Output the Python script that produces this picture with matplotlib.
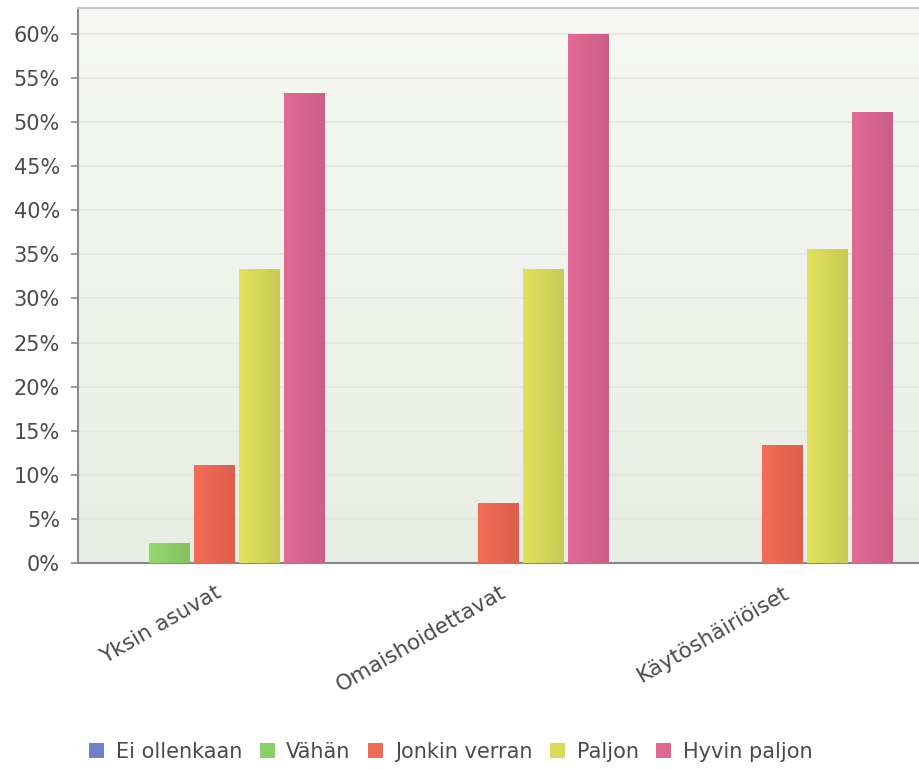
import matplotlib.pyplot as plt
import numpy as np
from matplotlib.colors import LinearSegmentedColormap
from matplotlib.patches import Patch
from matplotlib.transforms import ScaledTranslation

plt.rcParams['font.family'] = ['DejaVu Sans']

categories = ["Yksin asuvat", "Omaishoidettavat", "Käytöshäiriöiset"]
series = ["Ei ollenkaan", "Vähän", "Jonkin verran", "Paljon", "Hyvin paljon"]
ei_ollenkaan = [0.0, 0.0, 0.0]
vahan = [2.2, 0.0, 0.0]
jonkin_verran = [11.1, 6.7, 13.3]
paljon = [33.3, 33.3, 35.6]
hyvin_paljon = [53.3, 60.0, 51.1]
values = [ei_ollenkaan, vahan, jonkin_verran, paljon, hyvin_paljon]

# light / dark shade for each series (bars fade left to right)
shades = [("#7888d6", "#6474c0"),
          ("#95d86e", "#84c262"),
          ("#f56c56", "#dc5f4d"),
          ("#e2e25c", "#c9c954"),
          ("#e26a94", "#cb5f87")]
legend_colors = ["#6f80cc", "#8acf68", "#ef6a55", "#d9d95a", "#df6891"]

fig = plt.figure(figsize=(9.2, 7.69), dpi=100)
ax = fig.add_axes([0.0848, 0.2679, 0.9152, 0.7217])

xlim = (-0.482, 2.483)
ylim = (0, 62.95)

# background: soft vertical gradient
bg = LinearSegmentedColormap.from_list("bg", ["#e8eee4", "#f7f8f5"])
ax.imshow(np.linspace(0, 1, 256).reshape(-1, 1), cmap=bg, origin="lower",
          extent=(xlim[0], xlim[1], ylim[0], ylim[1]), aspect="auto", zorder=0)

x = np.arange(len(categories))
width = 0.144
step = 0.1585
grad = np.linspace(0, 1, 64).reshape(1, -1)
for i, (vals, (c1, c2)) in enumerate(zip(values, shades)):
    cmap = LinearSegmentedColormap.from_list(series[i], [c1, c2])
    offs = (i - 2) * step
    bars = ax.bar(x + offs, vals, width, color="none", edgecolor="none", zorder=2)
    for b in bars:
        h = b.get_height()
        if h <= 0:
            continue
        x0 = b.get_x()
        ax.imshow(grad, cmap=cmap, extent=(x0, x0 + width, 0, h),
                  aspect="auto", zorder=3)

ax.set_xlim(*xlim)
ax.set_ylim(*ylim)

yt = np.arange(0, 61, 5)
ax.set_yticks(yt)
ax.set_yticklabels([f"{v}%" for v in yt])
ax.grid(axis="y", color="#e3e5e1", linewidth=1.2, zorder=1)
ax.set_axisbelow(True)

ax.set_xticks(x)
ax.set_xticklabels(categories, rotation=30, ha="right", va="top",
                   rotation_mode="anchor")
for lab in ax.get_xticklabels():
    lab.set_transform(lab.get_transform() +
                      ScaledTranslation(0.15, 0, fig.dpi_scale_trans))

ax.tick_params(axis="x", length=0, pad=14, labelsize=15.5, labelcolor="#4a4a4a")
ax.tick_params(axis="y", length=5, width=1.2, color="#888888", pad=8,
               labelsize=15, labelcolor="#4a4a4a")

for side in ("left", "bottom"):
    ax.spines[side].set_color("#888888")
    ax.spines[side].set_linewidth(1.5)
ax.spines["top"].set_color("#c8c8c8")
ax.spines["top"].set_linewidth(1.5)
ax.spines["right"].set_visible(False)

handles = [Patch(facecolor=c, edgecolor="none") for c in legend_colors]
fig.legend(handles, series, loc="center", ncol=5, frameon=False,
           bbox_to_anchor=(0.49, 1 - 752 / 769), fontsize=15,
           handlelength=0.72, handleheight=0.72, handletextpad=0.55,
           columnspacing=0.85, labelcolor="#4a4a4a")

fig.savefig("out.png", dpi=100)
